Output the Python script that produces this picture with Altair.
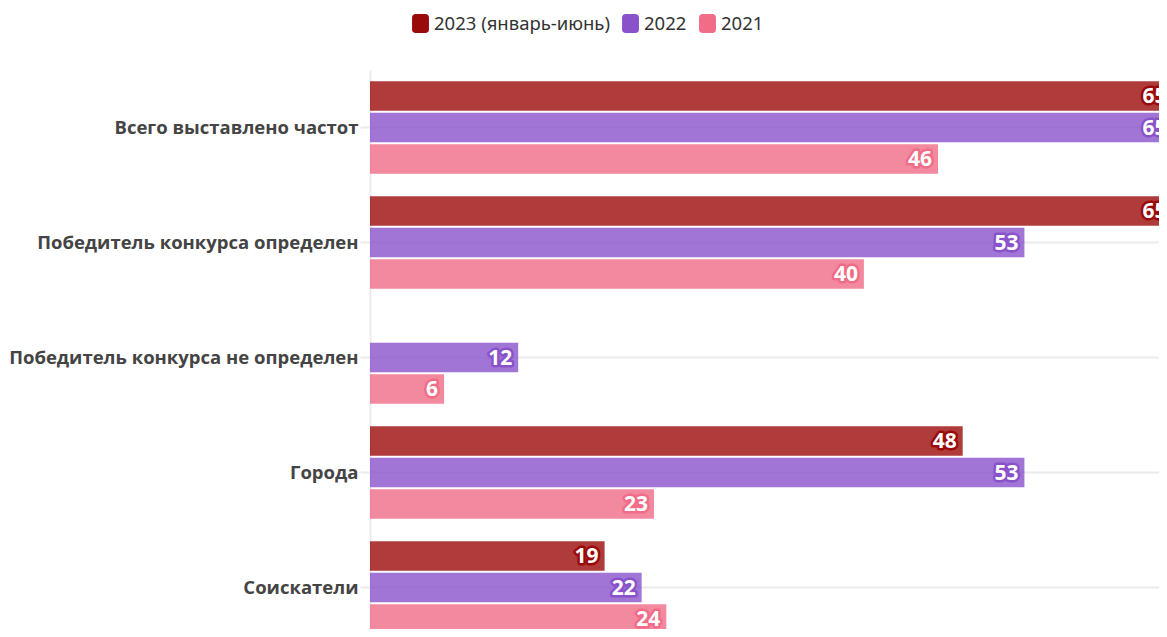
import altair as alt
import pandas as pd

categories = [
    "Всего выставлено частот",
    "Победитель конкурса определен",
    "Победитель конкурса не определен",
    "Города",
    "Соискатели",
]
series = ["2023 (январь-июнь)", "2022", "2021"]
v2023 = [65, 65, None, 48, 19]
v2022 = [65, 53, 12, 53, 22]
v2021 = [46, 40, 6, 23, 24]
colors = ["#9B0A0A", "#8A52CA", "#F06C87"]

rows = []
for s, vals in zip(series, [v2023, v2022, v2021]):
    for c, v in zip(categories, vals):
        if v is not None:
            rows.append({"cat": c, "series": s, "value": v})
df = pd.DataFrame(rows)

rounded = ("M -0.5,-1 L 0.5,-1 Q 0.89,-1 0.89,-0.6 L 0.89,0.6 Q 0.89,1 0.5,1 "
           "L -0.5,1 Q -0.89,1 -0.89,0.6 L -0.89,-0.6 Q -0.89,-1 -0.5,-1 Z")

y = alt.Y(
    "cat:N",
    sort=categories,
    scale=alt.Scale(domain=categories, range=[0, 575], paddingInner=0, paddingOuter=0),
    axis=alt.Axis(
        title=None,
        labelFont="Open Sans",
        labelFontSize=18.5,
        labelFontWeight="bold",
        labelColor="#444444",
        labelPadding=2,
        tickSize=10,
        tickColor="#ebebeb",
        tickWidth=2,
        domainColor="#ebebeb",
        domainWidth=2,
        grid=True,
        gridColor="#ebebeb",
        gridWidth=2,
        labelLimit=400,
    ),
)
yoff = alt.YOffset(
    "series:N",
    sort=series,
    scale=alt.Scale(domain=series, paddingInner=0.07, paddingOuter=0.36),
)
x = alt.X("value:Q", scale=alt.Scale(domain=[0, 63.9], nice=False, zero=True), axis=None)
color = alt.Color(
    "series:N",
    sort=series,
    scale=alt.Scale(domain=series, range=colors),
    legend=alt.Legend(
        title=None,
        orient="none",
        legendX=41,
        legendY=-56,
        direction="horizontal",
        symbolType=rounded,
        symbolSize=361,
        symbolOpacity=1,
        symbolStrokeWidth=0,
        labelFont="Noto Sans",
        labelFontSize=18.5,
        labelColor="#333333",
        labelOffset=4,
        labelLimit=400,
        columnPadding=11,
    ),
)

bars = alt.Chart(df).mark_bar(opacity=0.8, clip=True).encode(
    y=y, yOffset=yoff, x=x, color=color
)

text_kw = dict(align="right", baseline="middle", dx=-6, dy=1, font="Open Sans",
               fontSize=21, fontWeight="bold", clip=True)

halo = alt.Chart(df).mark_text(strokeWidth=5, strokeJoin="round", **text_kw).encode(
    y=y, yOffset=yoff, x=x, text="value:Q",
    stroke=alt.Stroke("series:N", scale=alt.Scale(domain=series, range=colors), legend=None),
    fill=alt.Fill("series:N", scale=alt.Scale(domain=series, range=colors), legend=None),
)

labels = alt.Chart(df).mark_text(color="white", **text_kw).encode(
    y=y, yOffset=yoff, x=x, text="value:Q"
)

chart = alt.layer(bars, halo, labels).resolve_scale(fill="independent", stroke="independent").properties(
    width=789,
    height=559,
    autosize=alt.AutoSizeParams(type="none"),
    padding={"left": 362, "top": 62, "right": 0, "bottom": 0},
).configure_view(stroke=None)

chart.save("out.html", embed_options={"renderer": "svg", "actions": False})
